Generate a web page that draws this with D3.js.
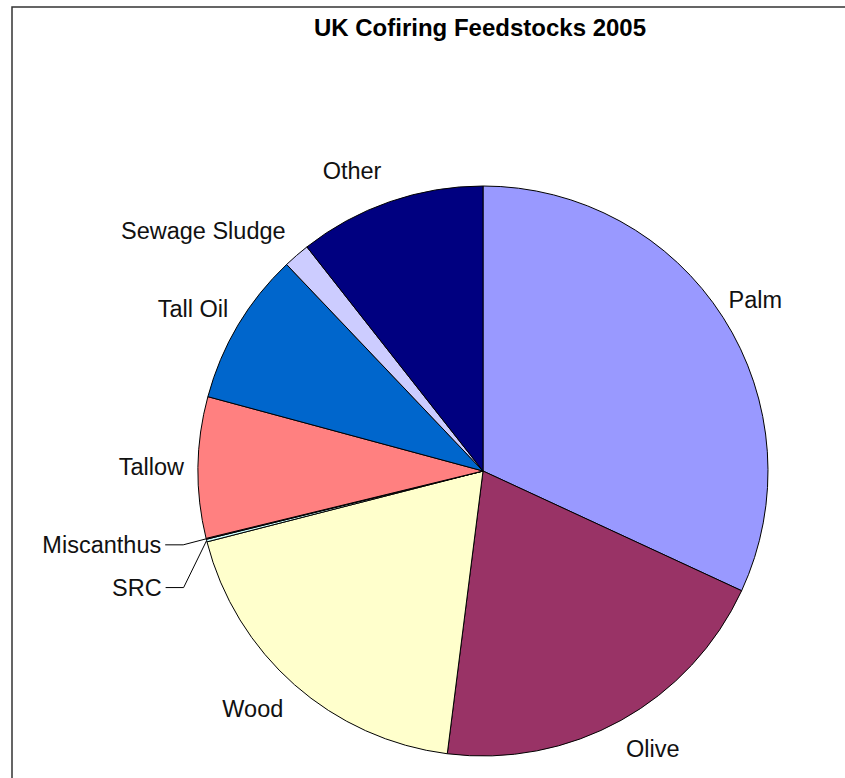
<!DOCTYPE html>
<html>
<head>
<meta charset="utf-8">
<script src="https://cdn.jsdelivr.net/npm/d3@7"></script>
<style>
  body { margin: 0; background: #fff; }
  text { font-family: "Liberation Sans", Arial, sans-serif; }
</style>
</head>
<body>
<div id="canvas"></div>
<script>
// values (percent share)
const feedstocks = ["Palm", "Olive", "Wood", "SRC", "Miscanthus", "Tallow", "Tall Oil", "Sewage Sludge", "Other"];
const shares = [31.9, 20.1, 19.0, 0.15, 0.05, 8.0, 8.7, 1.5, 10.6];
const sliceColors = ["#9999FF", "#993366", "#FFFFCC", "#CCFFFF", "#660066", "#FF8080", "#0066CC", "#CCCCFF", "#000080"];
const chartTitle = "UK Cofiring Feedstocks 2005";

const w = 845;
const h = 778;
const cx = 483, cy = 471, r = 285;

// tiny slices get a leader line instead of a plain label
const leaders = {
  "Miscanthus": { dx: -23, drop: 6 },
  "SRC": { dx: -23, drop: 47 }
};
// small horizontal nudges so labels sit where the original put them
const labelNudge = {
  "Palm": -9, "Olive": 8, "Wood": -7, "Tallow": 8,
  "Tall Oil": 4, "Sewage Sludge": -25, "Other": -21
};

const svg = d3.select("#canvas")
  .append("svg")
  .attr("width", w)
  .attr("height", h);

// chart area frame (cut off at right and bottom)
svg.append("path")
  .attr("d", `M12,${h + 5} L12,7 L${w + 5},7`)
  .attr("fill", "none")
  .attr("stroke", "#333")
  .attr("stroke-width", 1.5);

svg.append("text")
  .attr("x", 480)
  .attr("y", 36)
  .attr("text-anchor", "middle")
  .attr("font-size", 24)
  .attr("font-weight", "bold")
  .text(chartTitle);

const data = feedstocks.map((name, i) => ({ name: name, value: shares[i], color: sliceColors[i] }));

const pie = d3.pie().sort(null).value(d => d.value);
const arc = d3.arc().innerRadius(0).outerRadius(r);
const arcs = pie(data);

const g = svg.append("g").attr("transform", `translate(${cx},${cy})`);

g.selectAll("path.slice")
  .data(arcs)
  .enter()
  .append("path")
  .attr("class", "slice")
  .attr("d", arc)
  .attr("fill", d => d.data.color)
  .attr("stroke", "#000")
  .attr("stroke-width", 1);

const gap = 22;
const fontSize = 23.5;

arcs.forEach(d => {
  const a = (d.startAngle + d.endAngle) / 2;
  const s = Math.sin(a), c = Math.cos(a);
  const lead = leaders[d.data.name];
  if (lead) {
    const x0 = r * s, y0 = -r * c;
    const x1 = x0 + lead.dx, y1 = y0 + lead.drop;
    const x2 = x1 - 18;
    g.append("path")
      .attr("d", `M${x0},${y0} L${x1},${y1} L${x2},${y1}`)
      .attr("fill", "none")
      .attr("stroke", "#000")
      .attr("stroke-width", 1);
    g.append("text")
      .attr("x", x2 - 4)
      .attr("y", y1)
      .attr("dy", "0.35em")
      .attr("text-anchor", "end")
      .attr("font-size", fontSize)
      .attr("fill", "#111")
      .text(d.data.name);
    return;
  }
  const px = (r + gap) * s, py = -(r + gap) * c;
  const t = g.append("text")
    .attr("font-size", fontSize)
    .attr("fill", "#111")
    .attr("text-anchor", "middle")
    .attr("dy", "0.35em")
    .text(d.data.name);
  const tw = t.node().getComputedTextLength();
  const th = fontSize * 0.9;
  const nudge = labelNudge[d.data.name] || 0;
  t.attr("x", px + s * tw / 2 + nudge).attr("y", py - c * th / 2);
});
</script>
</body>
</html>
